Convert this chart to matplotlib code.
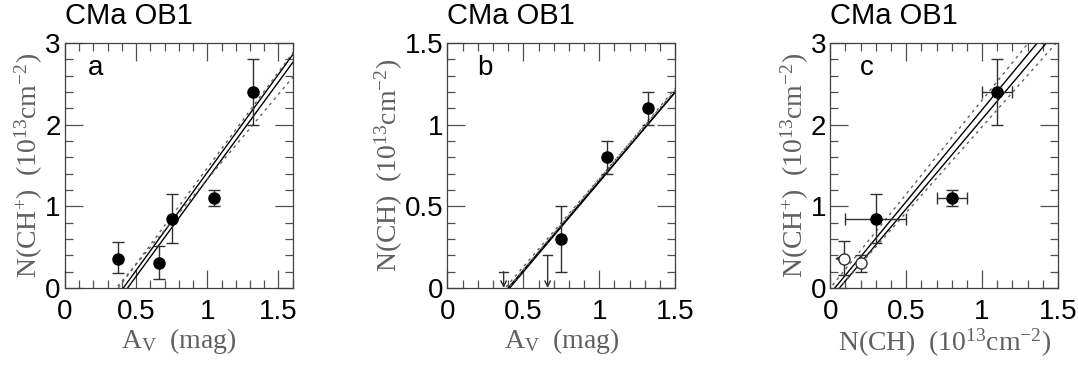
import numpy as np
import matplotlib
matplotlib.use("Agg")
import matplotlib.pyplot as plt
from matplotlib.ticker import MultipleLocator, FormatStrFormatter

plt.rcParams['font.family'] = ['Liberation Sans', 'DejaVu Sans']
plt.rcParams['mathtext.fontset'] = 'custom'
plt.rcParams['mathtext.rm'] = 'Liberation Serif'
plt.rcParams['mathtext.it'] = 'Liberation Serif:italic'

# ---- panel a : N(CH+) vs Av ----
a_av = [0.37, 0.66, 0.75, 1.045, 1.32]
a_nchp = [0.36, 0.31, 0.85, 1.10, 2.40]
a_lo = [0.18, 0.20, 0.30, 0.10, 0.40]
a_hi = [0.20, 0.20, 0.30, 0.10, 0.40]
# fit lines y = slope * (x - x0)
a_fit_slope = [2.40, 2.38]
a_fit_x0 = [0.41, 0.44]
a_dot_slope = [2.35, 2.08]
a_dot_x0 = [0.375, 0.36]

# ---- panel b : N(CH) vs Av ----
b_av = [0.75, 1.05, 1.32]
b_nch = [0.30, 0.80, 1.10]
b_err = [0.20, 0.10, 0.10]
b_ul_av = [0.37, 0.66]
b_ul = [0.10, 0.20]
b_fit_slope = [1.09, 1.10]
b_fit_x0 = [0.40, 0.41]
b_dot_slope = [1.11, 1.08]
b_dot_x0 = [0.40, 0.38]

# ---- panel c : N(CH+) vs N(CH) ----
c_nch = [0.30, 0.80, 1.10]
c_nch_err = [0.20, 0.10, 0.10]
c_nchp = [0.85, 1.10, 2.40]
c_lo = [0.30, 0.10, 0.40]
c_hi = [0.30, 0.10, 0.40]
c_open_nch = [0.09, 0.20]
c_open_nchp = [0.36, 0.30]
c_open_lo = [0.20, 0.10]
c_open_hi = [0.21, 0.10]
c_fit_slope = [2.25, 2.20]
c_fit_x0 = [0.03, 0.06]
c_dot_slope = [2.30, 2.10]
c_dot_x0 = [0.0, 0.06]

fig = plt.figure(figsize=(10.78, 3.65), dpi=100)
lefts = [0.0603, 0.4151, 0.7702]
w, h, bot = 0.2112, 0.6712, 0.2110
axs = [fig.add_axes([l, bot, w, h]) for l in lefts]

ylab_chp = r'$\mathrm{N(CH^{+})\ \ (10^{13}cm^{-2})}$'
ylab_ch = r'$\mathrm{N(CH)\ \ (10^{13}cm^{-2})}$'
xlab_av = r'$\mathrm{A_{V}\ \ (mag)}$'
labcol = '#606060'
labsize = 20


def style(ax, xmax, ymax, ymaj, ymin):
    ax.set_xlim(0, xmax)
    ax.set_ylim(0, ymax)
    ax.xaxis.set_major_locator(MultipleLocator(0.5))
    ax.xaxis.set_minor_locator(MultipleLocator(0.1))
    ax.yaxis.set_major_locator(MultipleLocator(ymaj))
    ax.yaxis.set_minor_locator(MultipleLocator(ymin))
    ax.xaxis.set_major_formatter(FormatStrFormatter('%g'))
    ax.yaxis.set_major_formatter(FormatStrFormatter('%g'))
    ax.tick_params(which='both', direction='in', top=True, right=True,
                   color='#505050', width=0.9, labelsize=20)
    ax.tick_params(which='major', length=13)
    ax.tick_params(axis='x', which='major', pad=8)
    ax.tick_params(axis='y', which='major', pad=3)
    ax.tick_params(which='minor', length=6)
    for s in ax.spines.values():
        s.set_color('#404040')
        s.set_linewidth(0.9)
    ax.text(0.0, 1.055, 'CMa OB1', transform=ax.transAxes, fontsize=21,
            ha='left', va='bottom')


def fits(ax, slopes, x0s, dslopes, dx0s, xmax):
    xx = np.linspace(-0.1, xmax + 0.1, 50)
    for s, x0 in zip(slopes, x0s):
        ax.plot(xx, s * (xx - x0), color='black', lw=1.0)
    for s, x0 in zip(dslopes, dx0s):
        ax.plot(xx, s * (xx - x0), color='#606060', lw=1.0, ls=(0, (2, 3)))


ekw = dict(fmt='o', color='black', ms=8, ecolor='#303030', elinewidth=1.0,
           capsize=4, capthick=1.0)

# a
ax = axs[0]
style(ax, 1.6, 3, 1, 0.2)
fits(ax, a_fit_slope, a_fit_x0, a_dot_slope, a_dot_x0, 1.6)
ax.errorbar(a_av, a_nchp, yerr=[a_lo, a_hi], **ekw)
ax.text(0.10, 0.87, 'a', transform=ax.transAxes, fontsize=20)
ax.set_ylabel(ylab_chp, fontsize=labsize, color=labcol, labelpad=0)
ax.set_xlabel(xlab_av, fontsize=labsize, color=labcol, labelpad=1)

# b
ax = axs[1]
style(ax, 1.5, 1.5, 0.5, 0.1)
fits(ax, b_fit_slope, b_fit_x0, b_dot_slope, b_dot_x0, 1.5)
ax.errorbar(b_av, b_nch, yerr=b_err, **ekw)
for x, u in zip(b_ul_av, b_ul):
    ax.plot([x - 0.03, x + 0.03], [u, u], color='#303030', lw=1.0)
    ax.annotate('', xy=(x, 0.0), xytext=(x, u),
                arrowprops=dict(arrowstyle='->', color='#303030', lw=1.0,
                                shrinkA=0, shrinkB=0))
ax.text(0.13, 0.87, 'b', transform=ax.transAxes, fontsize=20)
ax.set_ylabel(ylab_ch, fontsize=labsize, color=labcol, labelpad=0)
ax.set_xlabel(xlab_av, fontsize=labsize, color=labcol, labelpad=1)

# c
ax = axs[2]
style(ax, 1.5, 3, 1, 0.2)
fits(ax, c_fit_slope, c_fit_x0, c_dot_slope, c_dot_x0, 1.5)
ax.errorbar(c_nch, c_nchp, xerr=c_nch_err, yerr=[c_lo, c_hi], **ekw)
ax.errorbar(c_open_nch, c_open_nchp, yerr=[c_open_lo, c_open_hi], fmt='o',
            mfc='white', mec='#303030', ms=8, ecolor='#303030',
            elinewidth=1.0, capsize=4, zorder=3)
ax.annotate('', xy=(c_open_nch[0] - 0.06, c_open_nchp[0]),
            xytext=(c_open_nch[0], c_open_nchp[0]),
            arrowprops=dict(arrowstyle='->', color='#303030', lw=1.0,
                            shrinkA=0, shrinkB=0))
ax.text(0.13, 0.87, 'c', transform=ax.transAxes, fontsize=20)
ax.set_ylabel(ylab_chp, fontsize=labsize, color=labcol, labelpad=0)
ax.set_xlabel(r'$\mathrm{N(CH)\ \ (10^{13}cm^{-2})}$', fontsize=labsize,
              color=labcol, labelpad=1)

fig.savefig('out.png', dpi=100)
